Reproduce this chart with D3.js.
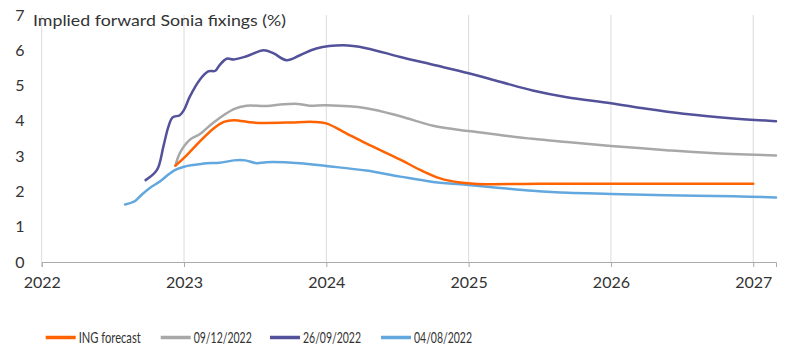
<!DOCTYPE html>
<html><head><meta charset="utf-8">
<script src="https://cdn.jsdelivr.net/npm/d3@7"></script>
<style>body{margin:0;background:#fff}svg{display:block}text{font-family:Lato,"Noto Sans",sans-serif;fill:#333}</style>
</head><body><svg id="c" width="800" height="358"></svg>
<script>
const title = "Implied forward Sonia fixings (%)";
const yTicks = [0,1,2,3,4,5,6,7];
const xTicks = [2022,2023,2024,2025,2026,2027];
const seriesNames = ["ING forecast","09/12/2022","26/09/2022","04/08/2022"];
const seriesColors = ["#FF6200","#A8A8A8","#525199","#62A8DE"];
// [decimal year, value]
const ingForecast = [[2022.94,2.73],[2023.02,3.03],[2023.11,3.41],[2023.21,3.79],[2023.28,3.97],[2023.35,4.02],[2023.49,3.95],[2023.72,3.95],[2023.91,3.97],[2024.0,3.93],[2024.12,3.69],[2024.28,3.36],[2024.52,2.90],[2024.66,2.61],[2024.80,2.37],[2024.94,2.25],[2025.06,2.21],[2025.5,2.22],[2026.0,2.22],[2026.5,2.22],[2027.0,2.22]];
const dec09 = [[2022.94,2.73],[2022.97,3.08],[2023.04,3.46],[2023.11,3.62],[2023.21,3.96],[2023.35,4.33],[2023.44,4.43],[2023.58,4.42],[2023.70,4.47],[2023.80,4.48],[2023.88,4.43],[2024.0,4.44],[2024.28,4.36],[2024.52,4.13],[2024.75,3.86],[2025.0,3.71],[2025.22,3.60],[2025.45,3.49],[2025.69,3.40],[2026.0,3.29],[2026.39,3.17],[2026.70,3.09],[2027.16,3.02]];
const sep26 = [[2022.73,2.32],[2022.81,2.61],[2022.855,3.27],[2022.89,3.83],[2022.92,4.1],[2022.97,4.16],[2023.0,4.31],[2023.04,4.68],[2023.11,5.16],[2023.17,5.40],[2023.22,5.42],[2023.25,5.58],[2023.30,5.76],[2023.35,5.74],[2023.44,5.83],[2023.56,6.0],[2023.63,5.91],[2023.72,5.72],[2023.815,5.86],[2023.93,6.05],[2024.12,6.14],[2024.28,6.06],[2024.52,5.81],[2024.75,5.59],[2025.0,5.35],[2025.22,5.11],[2025.45,4.86],[2025.69,4.67],[2026.0,4.50],[2026.25,4.34],[2026.51,4.20],[2026.86,4.07],[2027.16,3.99]];
const aug04 = [[2022.586,1.63],[2022.656,1.73],[2022.70,1.90],[2022.76,2.10],[2022.83,2.28],[2022.90,2.51],[2022.95,2.63],[2023.0,2.70],[2023.065,2.75],[2023.16,2.80],[2023.25,2.81],[2023.35,2.88],[2023.43,2.88],[2023.51,2.80],[2023.58,2.83],[2023.815,2.80],[2024.0,2.72],[2024.28,2.59],[2024.52,2.42],[2024.75,2.27],[2025.0,2.18],[2025.22,2.10],[2025.45,2.02],[2025.70,1.96],[2026.0,1.93],[2026.39,1.89],[2026.86,1.86],[2027.16,1.83]];
const seriesData = [ingForecast, dec09, sep26, aug04];

const svg = d3.select("#c");
const x = d3.scaleLinear().domain([2022, 2027.16]).range([41.7, 776]);
const y = d3.scaleLinear().domain([0, 7]).range([262, 15]);

// vertical gridlines
svg.append("g").selectAll("line").data(xTicks).join("line")
  .attr("x1", d => x(d)).attr("x2", d => x(d)).attr("y1", y(7)).attr("y2", y(0))
  .attr("stroke", "#dcdcdc").attr("stroke-width", 1);

// x axis
const xa = svg.append("g").attr("transform", `translate(0,${y(0)})`)
  .call(d3.axisBottom(x).tickValues(xTicks).tickFormat(d3.format("d")).tickSize(5).tickPadding(10));
xa.select(".domain").attr("stroke", "#aaa");
xa.selectAll(".tick line").attr("stroke", "#aaa");
xa.selectAll(".tick text").attr("font-size", 16).style("font-family", "Lato,sans-serif").attr("fill", "#333");

// y labels
svg.append("g").selectAll("text").data(yTicks).join("text")
  .attr("x", 20).attr("y", d => y(d) + 5.5).attr("text-anchor", "middle")
  .attr("font-size", 16).text(d => d);

// title
svg.append("text").attr("x", 33).attr("y", 26).attr("font-size", 16)
  .attr("textLength", 253).attr("lengthAdjust", "spacingAndGlyphs").text(title);

// lines
const line = d3.line().x(d => x(d[0])).y(d => y(d[1])).curve(d3.curveCatmullRom.alpha(0.5));
const order = [3, 1, 2, 0];
svg.append("g").selectAll("path").data(order).join("path")
  .attr("d", i => line(seriesData[i])).attr("fill", "none")
  .attr("stroke", i => seriesColors[i]).attr("stroke-width", 2.5)
  .attr("stroke-linejoin", "round").attr("stroke-linecap", "round");

// legend
const legX = [45.7, 160.7, 270, 381];
const legW = [62, 58, 58, 58];
const lg = svg.append("g").selectAll("g").data(seriesNames).join("g")
  .attr("transform", (d, i) => `translate(${legX[i]},337.5)`);
lg.append("line").attr("x1", 0).attr("x2", 30).attr("stroke", (d, i) => seriesColors[i]).attr("stroke-width", 3.5);
lg.append("text").attr("x", 33).attr("y", 5.5).attr("font-size", 16)
  .attr("textLength", (d, i) => legW[i]).attr("lengthAdjust", "spacingAndGlyphs").text(d => d);
</script></body></html>
